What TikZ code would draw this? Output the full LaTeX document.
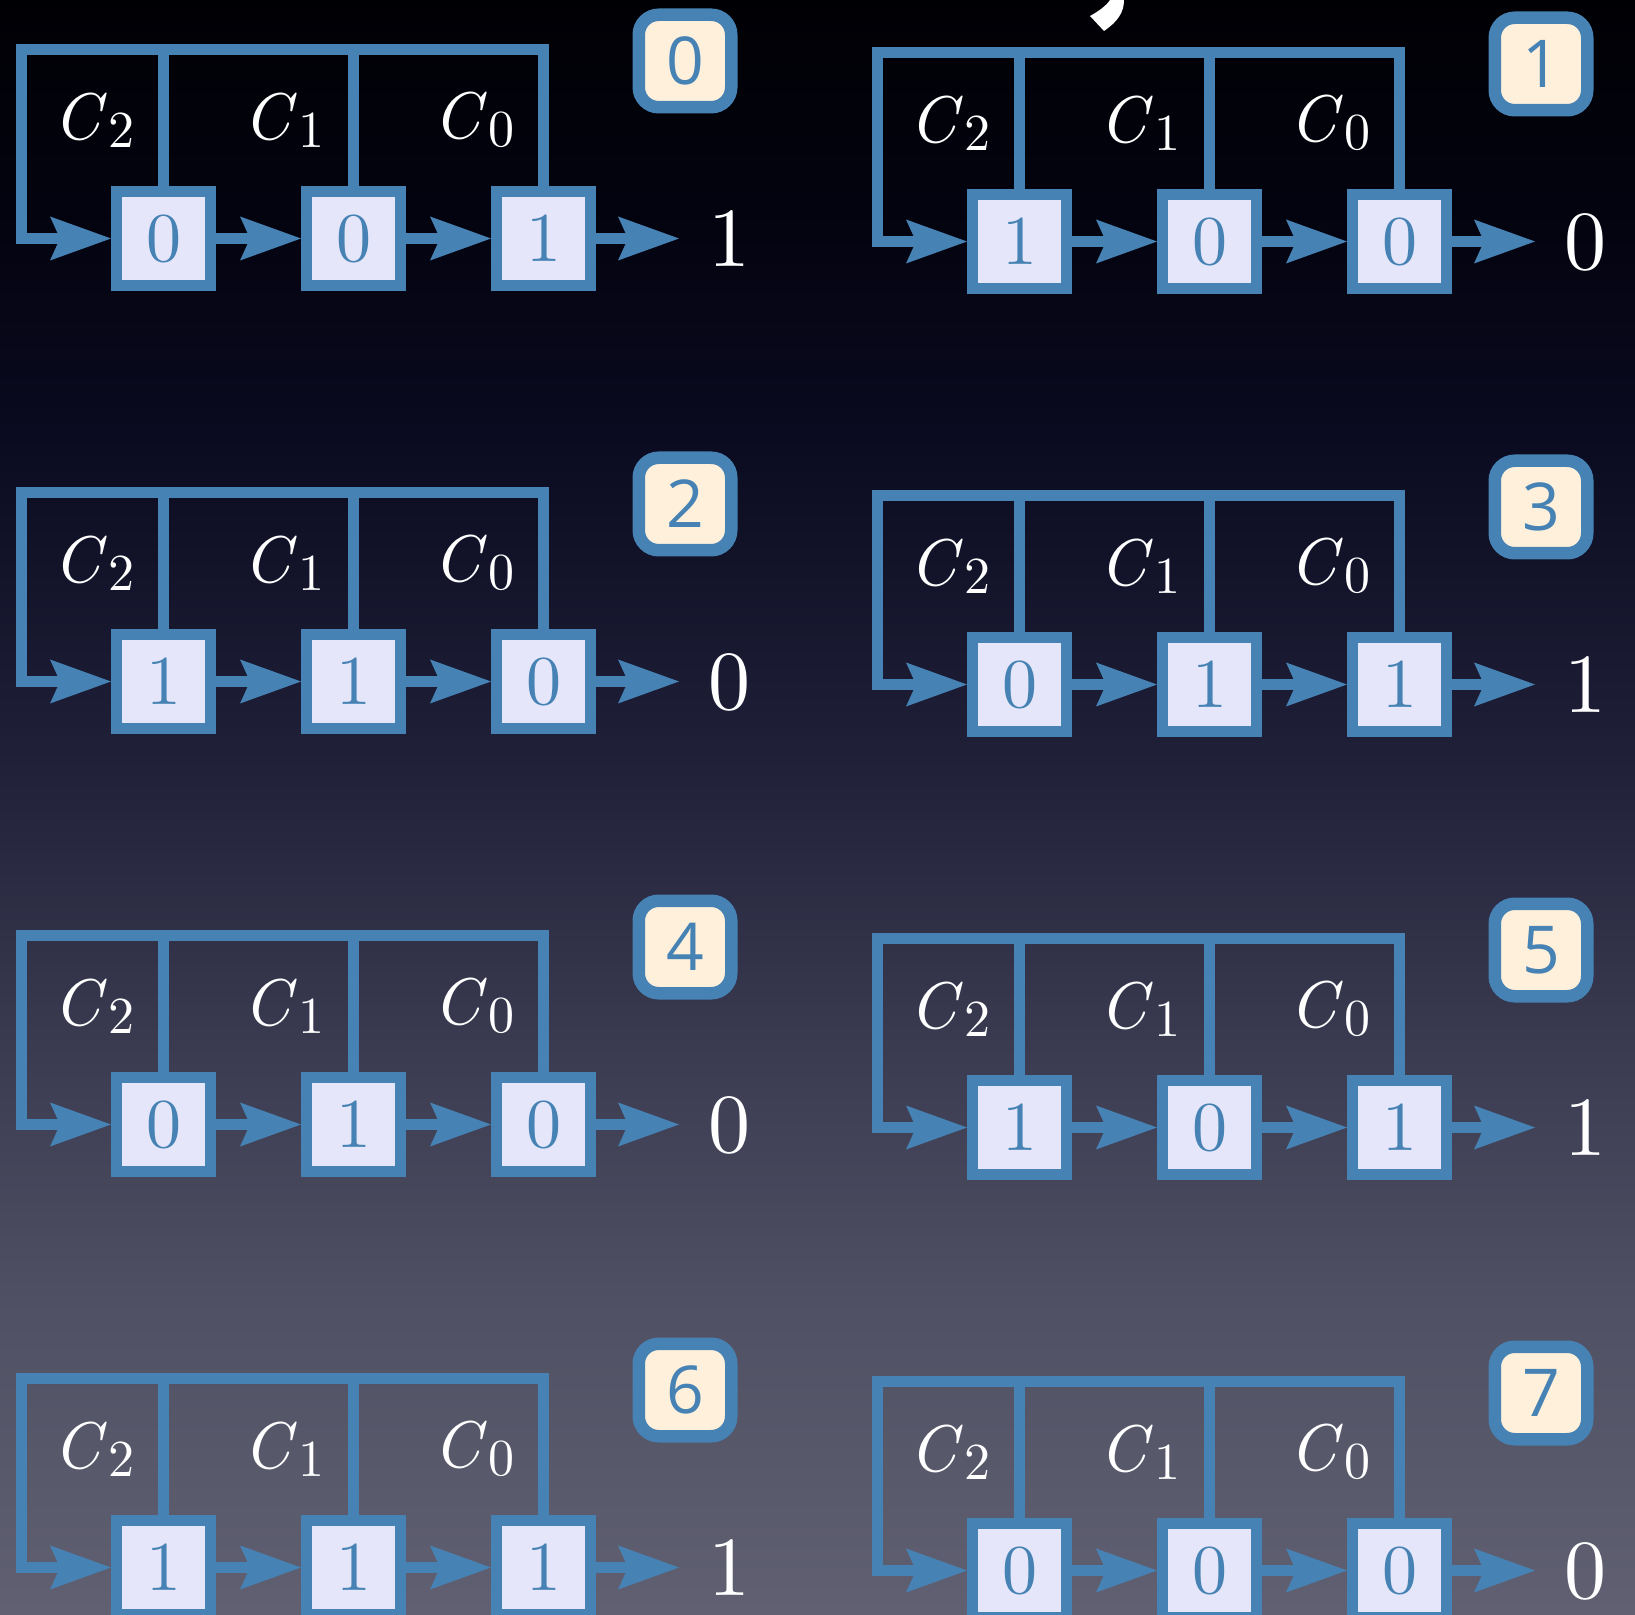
\RequirePackage{fix-cm}
\documentclass[tikz,border=0pt]{standalone}
\usepackage{fontspec}
\setmainfont{lmroman10}[Extension=.otf, UprightFont=*-regular, ItalicFont=*-italic,
  BoldFont=*-bold, BoldItalicFont=*-bolditalic]
\newfontfamily\badgefont{Open Sans}
\usetikzlibrary{arrows.meta}

\definecolor{steel}{RGB}{70,131,180}
\definecolor{lav}{RGB}{230,230,250}
\definecolor{cream}{RGB}{255,240,219}
\definecolor{bg0}{RGB}{0,0,4}
\definecolor{bg1}{RGB}{4,4,18}
\definecolor{bg2}{RGB}{11,11,33}
\definecolor{bg3}{RGB}{31,31,56}
\definecolor{bg4}{RGB}{54,54,77}
\definecolor{bg5}{RGB}{80,80,100}
\definecolor{bg6}{RGB}{96,96,114}

% coefficient label: italic C with a lowered index
\newcommand\coeff[1]{\textit{C}\kern0.03em\raisebox{-0.12em}{\fontsize{26}{30}\selectfont #1}}

\tikzset{
  wire/.style={draw=steel, line width=5.5pt},
  flow/.style={wire, -{Stealth[length=30.5pt,width=22pt,inset=5pt,line width=0pt]}},
  cell/.style={draw=steel, fill=lav, line width=5.5pt, minimum size=47pt,
    inner sep=0pt, text=steel, font=\fontsize{35}{40}\selectfont},
  tag/.style={draw=steel, fill=cream, line width=6.25pt, rounded corners=10pt,
    minimum size=46.25pt, inner sep=0pt, text=steel,
    font=\badgefont\fontsize{33}{38}\selectfont},
  coef/.style={text=white, inner sep=0pt, font=\fontsize{33}{38}\selectfont},
  outval/.style={text=white, inner sep=0pt, font=\fontsize{42}{48}\selectfont},
}

% one shift register: #1,#2 offset, #3 prefix, #4 step, #5-#7 cells, #8 output
\newcommand\regpanel[8]{%
  \begin{scope}[shift={(#1,#2)}]
    \node[cell] (#3c2) at (163.5,238.5) {#5};
    \node[cell] (#3c1) at (353.5,238.5) {#6};
    \node[cell] (#3c0) at (543.5,238.5) {#7};
    \coordinate (#3tl) at (21,49.5);
    \coordinate (#3tip) at (679,238.5);
    \node[outval] (#3val) at (729,239) {#8};
    \node[tag] (#3tag) at (685,61) {#4};
    \node[coef] (#3k2) at (94,120) {\coeff{2}};
    \node[coef] (#3k1) at (284,120) {\coeff{1}};
    \node[coef] (#3k0) at (474,120) {\coeff{0}};
    \draw[flow] (#3c0.north) -- (#3c0.north |- #3tl) -- (#3tl)
      -- (#3tl |- #3c2.west) -- (#3c2.west);
    \draw[wire] (#3c2.north) -- (#3c2.north |- #3tl);
    \draw[wire] (#3c1.north) -- (#3c1.north |- #3tl);
    \draw[flow] (#3c2.east) -- (#3c1.west);
    \draw[flow] (#3c1.east) -- (#3c0.west);
    \draw[flow] (#3c0.east) -- (#3tip);
  \end{scope}}

\begin{document}
\begin{tikzpicture}[x=0.5pt, y=-0.5pt]
  \useasboundingbox (0,0) rectangle (1635,1615);
  % background gradient
  \foreach \ya/\yb/\ca/\cb in {0/250/bg0/bg1, 250/450/bg1/bg2, 450/750/bg2/bg3,
      750/1000/bg3/bg4, 1000/1300/bg4/bg5, 1300/1615/bg5/bg6}
    \shade[top color=\ca, bottom color=\cb] (0,\ya-0.5) rectangle (1635,\yb+0.5);
  % tail of a heading glyph at the top edge
  \fill[white] (1111,0) -- (1124,0) .. controls (1124,13) and (1117,22) .. (1104,31)
    -- (1090,16) .. controls (1099,11) and (1106,6) .. (1110,0) -- cycle;

  \regpanel{0}{0}{pa}{0}{0}{0}{1}{1}
  \regpanel{856}{3}{pb}{1}{1}{0}{0}{0}
  \regpanel{0}{443}{pc}{2}{1}{1}{0}{0}
  \regpanel{856}{446}{pd}{3}{0}{1}{1}{1}
  \regpanel{0}{886}{pe}{4}{0}{1}{0}{0}
  \regpanel{856}{889}{pf}{5}{1}{0}{1}{1}
  \regpanel{0}{1329}{pg}{6}{1}{1}{1}{1}
  \regpanel{856}{1332}{ph}{7}{0}{0}{0}{0}
\end{tikzpicture}
\end{document}
